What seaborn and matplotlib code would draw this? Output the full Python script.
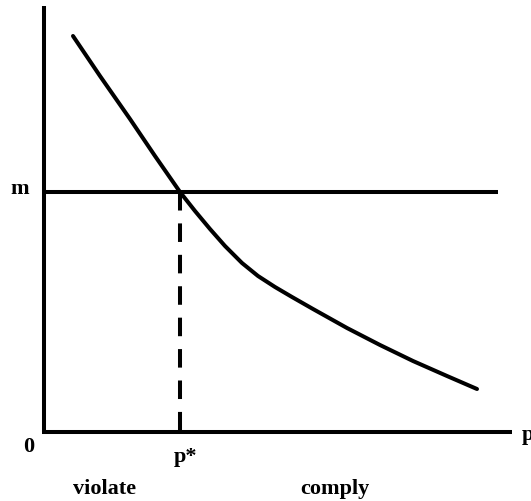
import matplotlib
matplotlib.use('Agg')
import matplotlib.pyplot as plt
import seaborn as sns
import pandas as pd

# curve values (p, cost)
curve_p = [0.29, 0.56, 0.86, 1.11, 1.36, 1.51, 1.66, 1.81, 1.98, 2.14, 2.31, 2.48,
           2.69, 3.03, 3.36, 3.69, 4.03, 4.33]
curve_y = [3.96, 3.56, 3.13, 2.76, 2.40, 2.21, 2.03, 1.86, 1.69, 1.56, 1.45, 1.35,
           1.23, 1.04, 0.87, 0.71, 0.56, 0.43]

m_level = 2.40
p_star = 1.36
m_line_end = 4.54
y_axis_top = 4.26
x_axis_end = 4.68

sns.set_style("white")
plt.rcParams['font.family'] = ['Liberation Serif', 'DejaVu Serif']

df = pd.DataFrame({'p': curve_p, 'y': curve_y})

fig = plt.figure(figsize=(5.31, 5.02), dpi=100)
ax = fig.add_axes([0, 0, 1, 1])
ax.set_xlim(-0.44, 4.87)
ax.set_ylim(-0.69, 4.33)
ax.axis('off')

lw = 2.9
# axes
ax.plot([0, 0], [0, y_axis_top], color='black', lw=lw, solid_capstyle='butt')
ax.plot([-0.02, x_axis_end], [0, 0], color='black', lw=lw, solid_capstyle='butt')
# m line
ax.plot([0, m_line_end], [m_level, m_level], color='black', lw=lw, solid_capstyle='butt')
# curve
sns.lineplot(data=df, x='p', y='y', ax=ax, color='black', lw=lw, sort=False)
# dashed drop line at p*
ax.plot([p_star, p_star], [m_level, 0], color='black', lw=lw, dashes=(4.6, 3.2))

txt = dict(fontsize=16, fontweight='bold', color='black')
ax.text(-0.24, 2.44, 'm', ha='center', va='center', **txt)
ax.text(-0.15, -0.14, '0', ha='center', va='center', **txt)
ax.text(1.41, -0.24, 'p*', ha='center', va='center', **txt)
ax.text(4.78, -0.02, 'p', ha='left', va='center', **txt)
ax.text(0.29, -0.56, 'violate', ha='left', va='center', **txt)
ax.text(2.56, -0.56, 'comply', ha='left', va='center', **txt)

ax.set_xlabel('')
ax.set_ylabel('')
plt.savefig('out.png', dpi=100)
plt.close()
